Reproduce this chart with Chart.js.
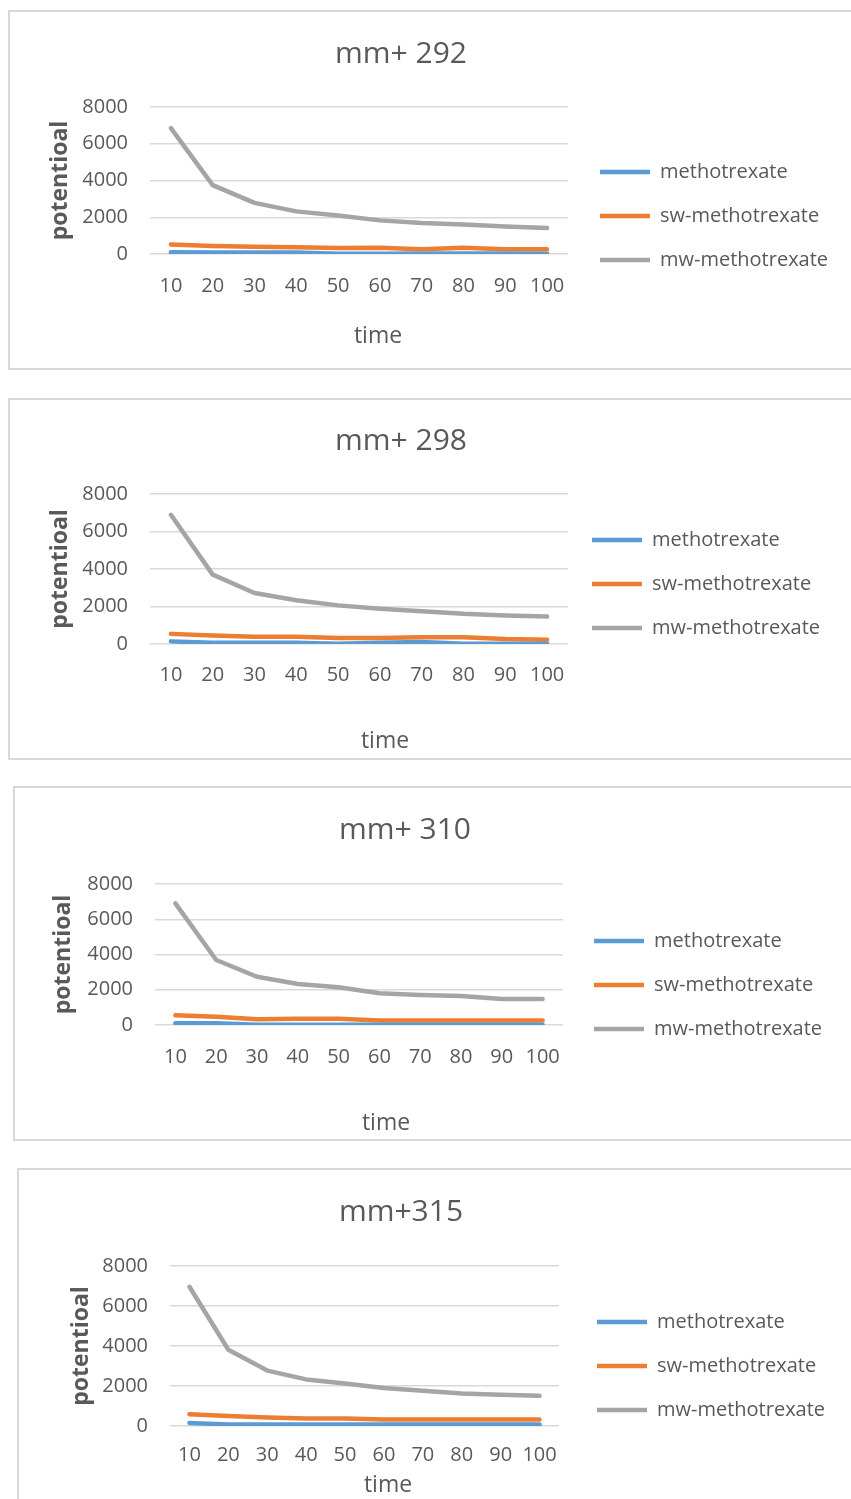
<!DOCTYPE html>
<html>
<head>
  <title>mm+ potentioal vs time</title>
  <style>
    html, body {
      margin: 0;
      padding: 0;
      background: #ffffff;
      overflow: hidden;
    }
    .panel {
      position: absolute;
      box-sizing: border-box;
      border: 2px solid #d9d9d9;
      background: #ffffff;
    }
    .panel canvas {
      position: absolute;
      left: -2px;
      top: -2px;
    }
  </style>
  <script src="https://cdn.jsdelivr.net/npm/chart.js"></script>
</head>
<body>
  <div class="panel" id="p1"><canvas id="c1"></canvas></div>
  <div class="panel" id="p2"><canvas id="c2"></canvas></div>
  <div class="panel" id="p3"><canvas id="c3"></canvas></div>
  <div class="panel" id="p4"><canvas id="c4"></canvas></div>
<script>
// categories / labels
const times = ['10', '20', '30', '40', '50', '60', '70', '80', '90', '100'];
const seriesNames = ['methotrexate', 'sw-methotrexate', 'mw-methotrexate'];
const yTicks = [0, 2000, 4000, 6000, 8000];

// mm+ 292
const mtx292 = [90, 80, 80, 80, 20, 20, 30, 30, 30, 20];
const sw292  = [520, 440, 400, 370, 330, 340, 260, 340, 260, 260];
const mw292  = [6850, 3750, 2780, 2320, 2100, 1830, 1690, 1610, 1500, 1420];

// mm+ 298
const mtx298 = [140, 70, 70, 70, 10, 70, 110, 10, 10, 10];
const sw298  = [540, 450, 390, 390, 320, 320, 360, 360, 270, 230];
const mw298  = [6890, 3700, 2720, 2330, 2060, 1880, 1750, 1610, 1520, 1470];

// mm+ 310
const mtx310 = [100, 100, 20, 20, 20, 20, 20, 20, 20, 20];
const sw310  = [550, 470, 320, 360, 360, 250, 250, 250, 250, 250];
const mw310  = [6900, 3690, 2740, 2330, 2140, 1800, 1700, 1650, 1480, 1480];

// mm+315
const mtx315 = [150, 80, 80, 80, 80, 80, 80, 80, 80, 80];
const sw315  = [590, 500, 420, 370, 370, 320, 320, 320, 320, 320];
const mw315  = [6960, 3810, 2770, 2330, 2130, 1900, 1760, 1630, 1560, 1510];

const colors = ['#5b9bd5', '#ed7d31', '#a5a5a5'];
const textColor = '#595959';
const FAMILY = '"Open Sans", sans-serif';
const TICK_FONT = 20, TITLE_FONT = 30, AXIS_FONT = 23, LEGEND_FONT = 20;
const LEGEND_STEP = 44, LINE_LEN = 50;
const LEGEND_PAD = LEGEND_STEP - LEGEND_FONT;

Chart.defaults.font.family = FAMILY;
Chart.defaults.color = textColor;

// page positions of each panel (box, plot area, text centres)
const panels = [
  { id: 'c1', box: 'p1', title: 'mm+ 292', series: [mtx292, sw292, mw292],
    left: 8, top: 10, height: 360,
    plotLeft: 150, plotRight: 568, plotTop: 107, plotBottom: 254,
    titleX: 401, titleY: 54, tickY: 286, timeX: 378, timeY: 336, yTitleX: 60, tickRight: 128,
    legendX: 600, legendY: 172 },
  { id: 'c2', box: 'p2', title: 'mm+ 298', series: [mtx298, sw298, mw298],
    left: 8, top: 398, height: 362,
    plotLeft: 150, plotRight: 568, plotTop: 494, plotBottom: 644,
    titleX: 401, titleY: 441, tickY: 675, timeX: 385, timeY: 741, yTitleX: 60, tickRight: 128,
    legendX: 592, legendY: 540 },
  { id: 'c3', box: 'p3', title: 'mm+ 310', series: [mtx310, sw310, mw310],
    left: 13, top: 786, height: 355,
    plotLeft: 155, plotRight: 563, plotTop: 884, plotBottom: 1025,
    titleX: 405, titleY: 830, tickY: 1057, timeX: 386, timeY: 1123, yTitleX: 63, tickRight: 133,
    legendX: 594, legendY: 941 },
  { id: 'c4', box: 'p4', title: 'mm+315', series: [mtx315, sw315, mw315],
    left: 17, top: 1168, height: 345,
    plotLeft: 170, plotRight: 559, plotTop: 1266, plotBottom: 1426,
    titleX: 401, titleY: 1212, tickY: 1455, timeX: 388, timeY: 1485, yTitleX: 81, tickRight: 148,
    legendX: 597, legendY: 1322 }
];

function textWidth(str, size) {
  const ctx = document.createElement('canvas').getContext('2d');
  ctx.font = size + 'px ' + FAMILY;
  return ctx.measureText(str).width;
}

// put the chart title and the x axis title where the reference has them
const moveTitles = {
  id: 'moveTitles',
  afterLayout(chart, args, opts) {
    const tb = chart.titleBlock;
    if (tb) {
      const w = tb.right - tb.left;
      tb.left = opts.titleX - w / 2;
      tb.right = opts.titleX + w / 2;
    }
    const xs = chart.scales.x;
    if (xs && !xs._shifted) {
      const drawTitle = xs.drawTitle;
      xs.drawTitle = function () {
        const l = this.left, r = this.right;
        const d = opts.timeX - (l + r) / 2;
        this.left = l + d;
        this.right = r + d;
        drawTitle.call(this);
        this.left = l;
        this.right = r;
      };
      xs._shifted = true;
    }
  }
};

function makeChart(p) {
  const W = 860 - p.left;
  const H = p.height;
  const box = document.getElementById(p.box);
  box.style.left = p.left + 'px';
  box.style.top = p.top + 'px';
  box.style.width = W + 'px';
  box.style.height = H + 'px';

  const canvas = document.getElementById(p.id);
  canvas.width = W;
  canvas.height = H;
  canvas.style.width = W + 'px';
  canvas.style.height = H + 'px';

  const rx = v => v - p.left;
  const ry = v => v - p.top;
  const plotLeft = rx(p.plotLeft), plotRight = rx(p.plotRight);
  const plotTop = ry(p.plotTop), plotBottom = ry(p.plotBottom);

  const gap = Math.max(0, rx(p.legendX) - plotRight - LEGEND_PAD);
  const maxText = Math.max(...seriesNames.map(s => textWidth(s, LEGEND_FONT)));
  const legendW = LEGEND_PAD + LINE_LEN + LEGEND_FONT / 2 + maxText + 10;
  const padRight = W - (plotRight + gap + legendW);

  return new Chart(canvas, {
    type: 'line',
    data: {
      labels: times,
      datasets: seriesNames.map((name, i) => ({
        label: name,
        data: p.series[i],
        borderColor: colors[i],
        backgroundColor: colors[i],
        borderWidth: 4.5,
        borderCapStyle: 'round',
        borderJoinStyle: 'round',
        pointRadius: 0,
        tension: 0
      }))
    },
    options: {
      responsive: false,
      animation: false,
      layout: { padding: { left: 0, top: 0, bottom: 0, right: padRight } },
      plugins: {
        title: {
          display: true,
          text: p.title,
          color: textColor,
          font: { size: TITLE_FONT, weight: 'normal' },
          padding: { top: ry(p.titleY) - TITLE_FONT * 0.6, bottom: plotTop - ry(p.titleY) - TITLE_FONT * 0.6 }
        },
        legend: {
          position: 'right',
          align: 'start',
          maxWidth: 1000,
          labels: {
            usePointStyle: true,
            pointStyle: 'line',
            pointStyleWidth: LINE_LEN,
            padding: LEGEND_PAD,
            color: textColor,
            font: { size: LEGEND_FONT }
          },
          title: {
            display: true,
            text: ' ',
            font: { size: 10 },
            padding: { top: ry(p.legendY) - LEGEND_PAD - LEGEND_FONT / 2 - 12, bottom: 0 }
          }
        },
        tooltip: { enabled: false },
        moveTitles: { titleX: rx(p.titleX), timeX: rx(p.timeX) }
      },
      scales: {
        x: {
          offset: true,
          grid: { display: false, drawTicks: false },
          border: { display: false },
          ticks: {
            color: textColor,
            font: { size: TICK_FONT },
            padding: ry(p.tickY) - plotBottom - TICK_FONT * 0.6,
            maxRotation: 0,
            autoSkip: false
          },
          title: {
            display: true,
            text: 'time',
            color: textColor,
            font: { size: AXIS_FONT },
            padding: { top: 0, bottom: H - ry(p.timeY) - AXIS_FONT * 0.6 }
          },
          afterFit: s => { s.height = H - plotBottom; }
        },
        y: {
          min: 0,
          max: 8000,
          afterBuildTicks: s => { s.ticks = yTicks.map(v => ({ value: v })); },
          ticks: {
            color: textColor,
            font: { size: TICK_FONT },
            padding: plotLeft - rx(p.tickRight),
            callback: v => String(v)
          },
          grid: { color: '#d9d9d9', lineWidth: 1.5, drawTicks: false },
          border: { display: false },
          title: {
            display: true,
            text: 'potentioal',
            color: textColor,
            font: { size: AXIS_FONT, weight: 'bold' },
            padding: { top: rx(p.yTitleX) - AXIS_FONT * 0.6, bottom: 0 }
          },
          afterFit: s => { s.width = plotLeft; }
        },
        y2: {
          position: 'right',
          grid: { display: false },
          border: { display: false },
          ticks: { display: false },
          afterFit: s => { s.width = gap; }
        }
      }
    },
    plugins: [moveTitles]
  });
}

panels.forEach(makeChart);
</script>
</body>
</html>
